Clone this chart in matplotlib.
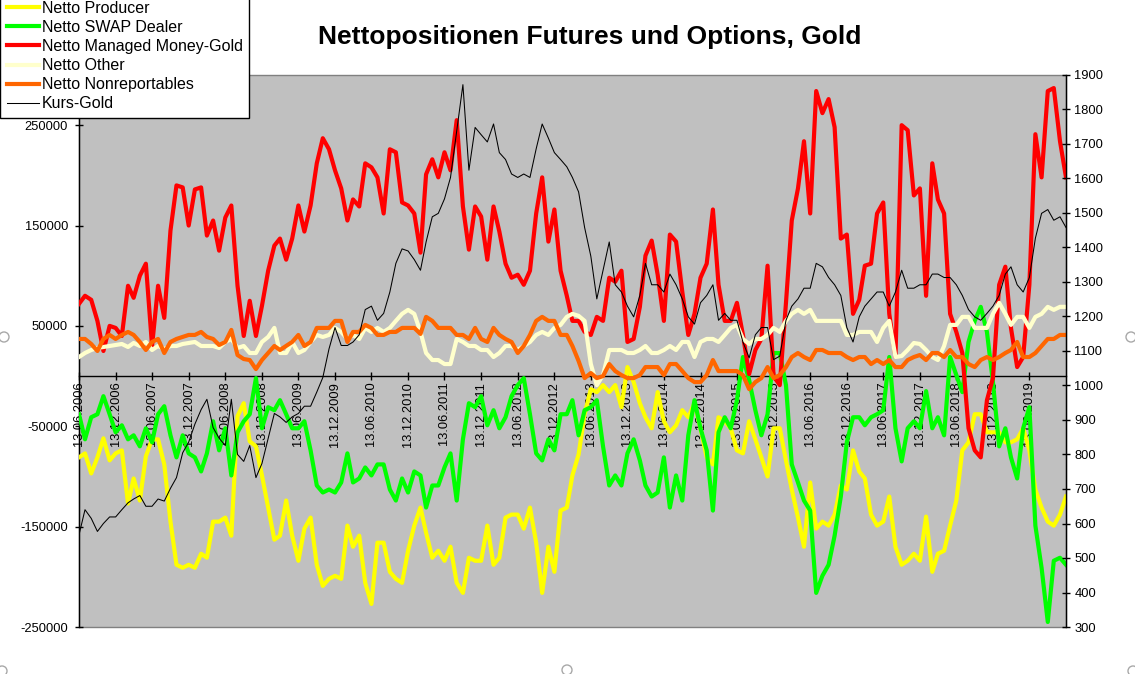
import matplotlib
matplotlib.use("Agg")
import matplotlib.pyplot as plt
from matplotlib.patches import Rectangle, Ellipse
import numpy as np
import pandas as pd

plt.rcParams['font.family'] = ['Liberation Sans', 'DejaVu Sans']

# ---------------- data (monthly readings, starting 13.06.2006) ----------------
start_date = "2006-06-13"
n_points = 163

# net positions in thousands of contracts
producer_k = [-81, -77, -97, -81, -62, -84, -77, -74, -127, -102,
              -124, -80, -63, -63, -88, -145, -188, -191, -188, -191,
              -177, -181, -145, -145, -141, -159, -40,
              -27, -65, -70, -99, -131, -163, -159, -124, -159, -184,
              -152, -141, -188, -209, -202, -199, -202, -149, -170, -159,
              -206, -227, -166, -166, -195, -202, -206, -174,
              -149, -131, -156, -181, -174, -184, -170, -206, -216, -181,
              -184, -184, -149, -188, -181, -141, -138, -138, -152, -131,
              -166, -216, -170, -195, -134, -131, -99, -78,
              -38, -13, -16, -9, -16, -9, -31, 9, -6, -27,
              -41, -52, -16, -45, -56, -49, -34, -41, -27, -52,
              -81, -88, -41, -45, -52, -74, -77, -45,
              -63, -81, -100, -52, -52, -84, -113, -141, -170, -106,
              -152, -145, -149, -138, -109, -113, -74, -95, -102, -138,
              -149, -145, -120, -170, -188, -184, -177, -184,
              -140, -195, -177, -174, -149, -124, -74, -66, -38, -38,
              -56, -56, -56, -66, -66, -63, -52, -74, -113, -131,
              -145, -149, -138, -120]

swap_k = [-38, -63, -41, -38, -20, -38, -56, -49, -63, -59,
          -70, -52, -66, -38, -30, -59, -81, -59, -77, -81,
          -95, -77, -45, -74, -52, -99, -56,
          -45, -38, -2, -52, -31, -34, -24, -38, -52, -52,
          -45, -74, -109, -116, -113, -116, -106, -77, -106, -102,
          -91, -99, -88, -88, -113, -124, -102, -116,
          -95, -99, -131, -109, -109, -91, -77, -124, -63, -27,
          -31, -20, -49, -34, -52, -41, -20, -9, -2, -38,
          -77, -84, -63, -74, -38, -38, -24, -59,
          -34, -31, -24, -70, -109, -99, -109, -77, -63, -84,
          -109, -120, -116, -81, -131, -99, -124, -59, -24, -52,
          -74, -134, -56, -41, -52, -24, 19, -4,
          -34, -59, -38, 23, 23, -9, -88, -106, -124, -134,
          -216, -199, -188, -159, -120, -66, -41, -41, -49, -41,
          -38, -34, 19, -52, -85, -52, -45, -52,
          -15, -52, -41, -59, 19, 1, -16, 34, 55, 69,
          44, -6, -70, -52, -81, -102, -52, -31, -149, -191,
          -245, -184, -181, -188]

managed_money_k = [72, 80, 76, 55, 25, 50, 48, 40, 90, 78,
                   100, 112, 30, 90, 58, 145, 190, 188, 150, 186,
                   188, 140, 155, 125, 158, 170, 90,
                   40, 75, 40, 70, 105, 130, 137, 116, 137, 170,
                   144, 170, 212, 237, 226, 205, 187, 155, 176, 169,
                   212, 208, 198, 162, 226, 223, 173, 170,
                   162, 123, 201, 216, 198, 223, 205, 255, 169, 126,
                   169, 159, 116, 169, 144, 112, 98, 101, 91, 105,
                   162, 198, 134, 166, 105, 80, 55, 55,
                   44, 41, 59, 55, 98, 94, 105, 34, 37, 69,
                   120, 135, 101, 55, 141, 134, 84, 41, 62, 98,
                   112, 166, 91, 55, 55, 73, 41, 2,
                   26, 37, 110, 0, -9, 73, 155, 187, 234, 162,
                   284, 262, 276, 248, 137, 141, 62, 76, 110, 112,
                   162, 173, 62, 19, 250, 245, 180, 187,
                   80, 212, 176, 162, 62, 44, 23, -52, -74, -81,
                   -24, -2, 91, 109, 48, 9, 19, 91, 241, 198,
                   284, 287, 234, 198]

other_k = [19, 23, 26, 28, 29, 30, 31, 32, 29, 33,
           30, 34, 26, 30, 27, 30, 30, 32, 33, 34,
           30, 30, 30, 28, 34, 37, 28,
           30, 23, 23, 34, 39, 48, 23, 23, 34, 23,
           26, 34, 41, 39, 41, 48, 44, 37, 41, 37,
           48, 44, 48, 44, 48, 55, 62, 66,
           62, 44, 23, 16, 16, 12, 12, 37, 34, 30,
           30, 26, 26, 19, 23, 30, 30, 26, 30, 34,
           41, 44, 41, 48, 51, 59, 62, 60,
           55, 12, -9, 1, 26, 26, 26, 23, 23, 26,
           30, 23, 23, 26, 30, 26, 34, 34, 19, 34,
           37, 37, 34, 41, 48, 51, 37, 32,
           37, 37, 41, 48, 44, 55, 62, 66, 62, 66,
           55, 55, 55, 55, 55, 41, 41, 44, 44, 44,
           34, 48, 55, 19, 20, 26, 33, 32,
           26, 19, 16, 30, 51, 51, 59, 59, 48, 48,
           48, 62, 73, 62, 51, 59, 59, 48, 59, 62,
           69, 66, 69, 69]

nonrep_k = [37, 37, 32, 25, 37, 41, 37, 41, 44, 41,
            34, 26, 34, 37, 23, 34, 37, 39, 41, 41,
            44, 39, 37, 31, 34, 46, 21,
            17, 16, 7, 16, 23, 30, 26, 30, 34, 41,
            30, 34, 48, 48, 48, 55, 55, 34, 44, 44,
            51, 48, 41, 41, 44, 44, 48, 48,
            48, 42, 59, 55, 48, 48, 48, 41, 41, 37,
            48, 37, 34, 48, 41, 37, 34, 23, 30, 41,
            55, 59, 55, 55, 41, 41, 30, 15,
            -2, 3, -2, 0, 12, 5, 1, -2, -2, 1,
            9, 9, 9, 1, 12, 12, 5, -2, -6, -6,
            1, 16, 5, 5, 5, 5, 1, -13,
            -6, -2, 9, -2, 1, 9, 19, 23, 19, 16,
            26, 26, 23, 23, 23, 19, 16, 19, 19, 12,
            16, 12, 16, 9, 9, 16, 19, 21,
            16, 23, 23, 19, 26, 19, 19, 12, 9, 16,
            19, 16, 19, 23, 26, 34, 19, 19, 23, 30,
            37, 37, 41, 41]

gold_price = [567, 640, 615, 577, 600, 619, 619, 640, 660, 671,
              681, 650, 650, 671, 665, 702, 733, 805, 836, 888,
              930, 960, 878, 847, 826, 960, 800,
              780, 826, 733, 774, 847, 919, 909, 893, 909, 919,
              940, 940, 981, 1023, 1106, 1168, 1116, 1116, 1126, 1147,
              1220, 1230, 1189, 1209, 1271, 1354, 1396, 1390,
              1365, 1334, 1416, 1489, 1499, 1541, 1603, 1737, 1872, 1624,
              1748, 1727, 1706, 1758, 1675, 1655, 1613, 1603, 1613, 1603,
              1686, 1758, 1717, 1675, 1655, 1634, 1603, 1561,
              1458, 1375, 1251, 1334, 1416, 1292, 1271, 1230, 1199, 1261,
              1354, 1292, 1292, 1271, 1323, 1292, 1251, 1199, 1178, 1240,
              1261, 1292, 1189, 1209, 1189, 1189, 1126, 1080,
              1147, 1168, 1168, 1075, 1085, 1189, 1230, 1251, 1282, 1282,
              1354, 1344, 1313, 1292, 1261, 1168, 1126, 1199, 1230, 1251,
              1271, 1271, 1230, 1271, 1334, 1282, 1282, 1292,
              1292, 1323, 1323, 1313, 1313, 1292, 1261, 1220, 1199, 1189,
              1209, 1230, 1261, 1323, 1344, 1292, 1271, 1313, 1427, 1499,
              1510, 1479, 1489, 1458]

date_labels = ["13.06.2006", "13.12.2006", "13.06.2007", "13.12.2007", "13.06.2008",
               "13.12.2008", "13.06.2009", "13.12.2009", "13.06.2010", "13.12.2010",
               "13.06.2011", "13.12.2011", "13.06.2012", "13.12.2012", "13.06.2013",
               "13.12.2013", "13.06.2014", "13.12.2014", "13.06.2015", "13.12.2015",
               "13.06.2016", "13.12.2016", "13.06.2017", "13.12.2017", "13.06.2018",
               "13.12.2018", "13.06.2019"]
left_ticks = [250000, 150000, 50000, -50000, -150000, -250000]
left_tick_labels = ["250000", "150000", "50000", "-50000", "-150000", "-250000"]
right_ticks = [300, 400, 500, 600, 700, 800, 900, 1000, 1100, 1200, 1300,
               1400, 1500, 1600, 1700, 1800, 1900]

series_names = ["Netto Producer", "Netto SWAP Dealer", "Netto Managed Money-Gold",
                "Netto Other", "Netto Nonreportables", "Kurs-Gold"]
title_text = "Nettopositionen Futures und Options, Gold"

# ---------------- figure ----------------
W, H = 1135, 674
fig = plt.figure(figsize=(W / 100, H / 100), dpi=100)
fig.patch.set_facecolor("white")

L, R, T, B = 79, 1066, 75, 627
ax = fig.add_axes([L / W, 1 - B / H, (R - L) / W, (B - T) / H])
ax.set_facecolor("#C0C0C0")

dates = pd.DatetimeIndex([pd.Timestamp(start_date) + pd.DateOffset(months=k)
                          for k in range(n_points)])

colors = ["#FFFF00", "#00FF00", "#FF0000", "#FFFFCC", "#FF6600"]
left_series = [producer_k, swap_k, managed_money_k, other_k, nonrep_k]
handles = []
for vals, col, name in zip(left_series, colors, series_names[:5]):
    ln, = ax.plot(dates, np.array(vals) * 1000, color=col, lw=3.0,
                  solid_joinstyle="round", label=name, zorder=3)
    handles.append(ln)

ax.set_ylim(-250000, 300000)
ax.set_yticks(left_ticks)
ax.set_yticklabels(left_tick_labels)

for s in ["top", "right"]:
    ax.spines[s].set_visible(False)
ax.spines["bottom"].set_position(("data", 0))
ax.spines["bottom"].set_color("black")
ax.spines["bottom"].set_linewidth(1.0)
ax.spines["left"].set_color("black")
ax.spines["left"].set_linewidth(1.0)
ax.spines["bottom"].set_zorder(2.5)

# plot-area border (grey)
ax.add_patch(Rectangle((0, 0), 1, 1, transform=ax.transAxes, fill=False,
                       edgecolor="#808080", lw=1.0, zorder=1, clip_on=False))

ax2 = ax.twinx()
ln, = ax2.plot(dates, gold_price, color="black", lw=0.75, label=series_names[5], zorder=4)
handles.append(ln)
ax2.set_ylim(300, 1900)
ax2.set_yticks(right_ticks)
ax2.set_yticklabels([str(v) for v in right_ticks])
for s in ["top", "left", "bottom"]:
    ax2.spines[s].set_visible(False)
ax2.spines["right"].set_color("black")
ax2.spines["right"].set_linewidth(1.0)
ax2.tick_params(axis="y", direction="inout", length=6, width=1, labelsize=9.3, pad=3)

# x axis (category dates) set after twinx
ax.set_xlim(dates[0], dates[-1])
tick_dates = pd.to_datetime(date_labels, format="%d.%m.%Y")
ax.set_xticks(tick_dates)
ax.set_xticklabels(date_labels)
ax.tick_params(axis="x", direction="inout", length=6, width=1, labelsize=9.3,
               pad=1, labelrotation=90)
for lbl in ax.get_xticklabels():
    lbl.set_rotation(90)
    lbl.set_ha("center")
    lbl.set_va("top")
ax.tick_params(axis="y", direction="inout", length=6, width=1, labelsize=9.3, pad=5)

# title
fig.text(590 / W, 1 - 37 / H, title_text, ha="center", va="center",
         fontsize=19, fontweight="bold")

# legend
leg = fig.legend(handles=handles, labels=series_names, loc="upper left",
                 bbox_to_anchor=(0.0, 1 + 6 / H), bbox_transform=fig.transFigure,
                 fontsize=11.5, frameon=True, fancybox=False, framealpha=1,
                 edgecolor="black", borderpad=0.42, labelspacing=0.26,
                 handlelength=2.0, handletextpad=0.18, borderaxespad=0)
leg.get_frame().set_linewidth(1.0)
leg.set_zorder(10)

# selection handles of the chart object
for (px, py) in [(4, 337), (1131, 337), (567, 670), (2, 671), (1133, 671)]:
    fig.add_artist(Ellipse((px / W, 1 - py / H), 10 / W, 10 / H,
                           transform=fig.transFigure, facecolor="white",
                           edgecolor="#A8A8A8", lw=1.0))

fig.savefig("out.png", dpi=100)
